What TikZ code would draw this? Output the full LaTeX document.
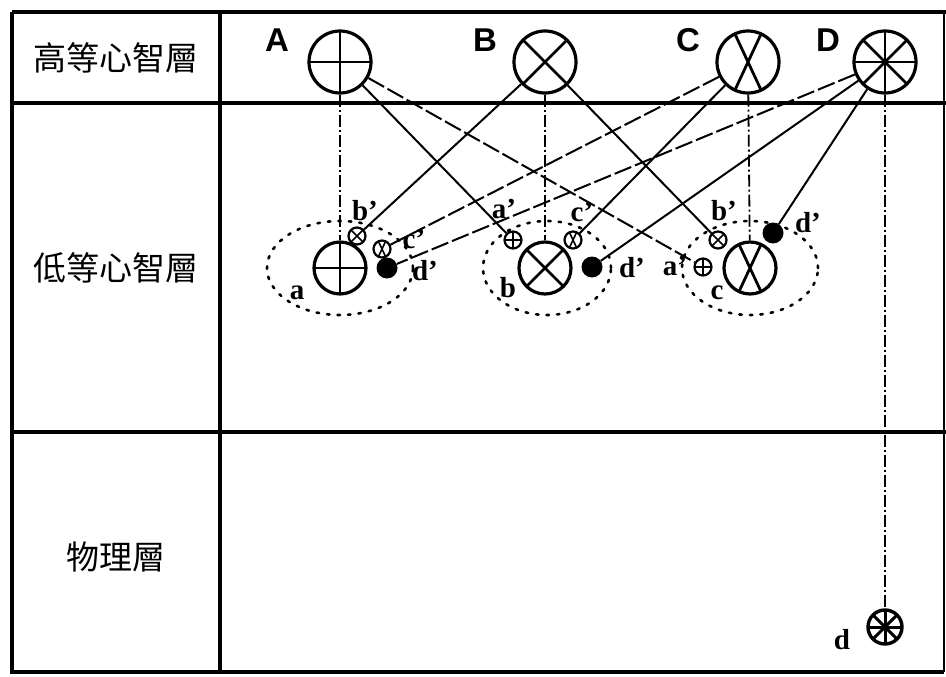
\documentclass[tikz,border=0pt]{standalone}
\usepackage{fontspec}
\newfontfamily\cjk{Noto Sans CJK TC}
\newfontfamily\capfont{Liberation Sans}
\newfontfamily\lowfont{Liberation Serif}
\tikzset{
  frame/.style={line width=3.4pt},
  mind/.style={circle,draw,line width=3.2pt,inner sep=0pt},
  upper/.style={mind,minimum size=62pt},
  lower/.style={mind,minimum size=52pt},
  small/.style={circle,draw,line width=2.2pt,inner sep=0pt,minimum size=17pt},
  blob/.style={circle,fill,inner sep=0pt,minimum size=21pt},
  plus/.style={path picture={\draw[line width=#1] (path picture bounding box.north) -- (path picture bounding box.south) (path picture bounding box.west) -- (path picture bounding box.east);}},
  plus/.default=2.8pt,
  cross/.style={path picture={\draw[line width=#1] (path picture bounding box.north west) -- (path picture bounding box.south east) (path picture bounding box.north east) -- (path picture bounding box.south west);}},
  cross/.default=2.8pt,
  steep/.style={path picture={\draw[line width=#1] (path picture bounding box.center) ++(65:40pt) -- ++(245:80pt) (path picture bounding box.center) ++(115:40pt) -- ++(295:80pt);}},
  steep/.default=2.8pt,
  wheel/.style={path picture={\foreach \ang in {0,45,90,135} \draw[line width=#1] (path picture bounding box.center) ++(\ang:40pt) -- ++(\ang+180:80pt);}},
  wheel/.default=2.8pt,
  bigletter/.style={font=\capfont\bfseries\fontsize{33}{33}\selectfont},
  letter/.style={font=\lowfont\bfseries\fontsize{29}{29}\selectfont,inner sep=1pt},
  layer/.style={font=\cjk\fontsize{33}{33}\selectfont},
  vert/.style={line width=1.8pt,dash pattern=on 12pt off 3pt on 2pt off 3pt},
  link/.style={line width=2pt},
  gappy/.style={link,dash pattern=on 18pt off 4pt},
  ring/.style={line width=2.6pt,line cap=round,dash pattern=on 2.5pt off 8pt},
}
\begin{document}
\begin{tikzpicture}[x=1pt,y=-1pt]
\useasboundingbox (0,0) rectangle (946,677);
\draw[frame] (12,12) -- (12,672) -- (944,672);
\draw[frame] (12,12) -- (946,12);
\draw[frame] (12,103) -- (946,103);
\draw[frame] (12,432) -- (946,432);
\draw[frame] (220,12) -- (220,672);
\draw[line width=1.2pt] (944,12) -- (944,672);

\node[layer] (high) at (116,58) {高等心智層};
\node[layer] (low) at (116,268) {低等心智層};
\node[layer] (phys) at (116,557) {物理層};

\node[upper,plus] (A) at (340,62) {};
\node[upper,cross] (B) at (545,62) {};
\node[upper,steep] (C) at (748,62) {};
\node[upper,wheel] (D) at (885,62) {};
\node[bigletter] (labA) at (277,40) {A};
\node[bigletter] (labB) at (485,40) {B};
\node[bigletter] (labC) at (688,40) {C};
\node[bigletter] (labD) at (828,40) {D};

\node[lower,plus] (a) at (340,268) {};
\node[lower,cross] (b) at (545,268) {};
\node[lower,steep] (c) at (750,268) {};
\draw[ring] (a.center) ellipse [x radius=73pt,y radius=47pt];
\draw[ring] (547,268) ellipse [x radius=64pt,y radius=47pt];
\draw[ring] (c.center) ellipse [x radius=68pt,y radius=47pt];

\node[small,cross=1.6pt] (ab) at (357,236) {};
\node[small,steep=1.6pt] (ac) at (382,249) {};
\node[blob] (ad) at (387,268) {};
\node[small,plus=1.6pt] (ba) at (513,240) {};
\node[small,steep=1.6pt] (bc) at (573,240) {};
\node[blob] (bd) at (592,267) {};
\node[small,plus=1.6pt] (ca) at (703,267) {};
\node[small,cross=1.6pt] (cb) at (718,240) {};
\node[blob] (cd) at (773,233) {};
\node[circle,draw,line width=3.4pt,inner sep=0pt,minimum size=34pt,wheel=3pt] (dd) at (885,627) {};

\node[letter] (laba) at (297,293) {a};
\node[letter] (labab) at (365,211) {b’};
\node[letter] (labac) at (414,239) {c’};
\node[letter] (labad) at (425,271) {d’};
\node[letter] (labb) at (508,288) {b};
\node[letter] (labba) at (504,209) {a’};
\node[letter] (labbc) at (582,212) {c’};
\node[letter] (labbd) at (632,268) {d’};
\node[letter] (labc) at (717,293) {c};
\node[letter] (labca) at (675,266) {a’};
\node[letter] (labcb) at (724,211) {b’};
\node[letter] (labcd) at (808,223) {d’};
\node[letter] (labd) at (842,640) {d};

\draw[vert] (A) -- (a);
\draw[vert] (B) -- (b);
\draw[vert] (C) -- (c);
\draw[vert] (D) -- (dd);
\draw[link] (A) -- (ba);
\draw[gappy] (A) -- (ca);
\draw[link] (B) -- (ab);
\draw[link] (B) -- (cb);
\draw[gappy] (C) -- (ac);
\draw[link] (C) -- (bc);
\draw[gappy] (D) -- (ad);
\draw[link] (D) -- (bd);
\draw[link] (D) -- (cd);
\end{tikzpicture}
\end{document}
